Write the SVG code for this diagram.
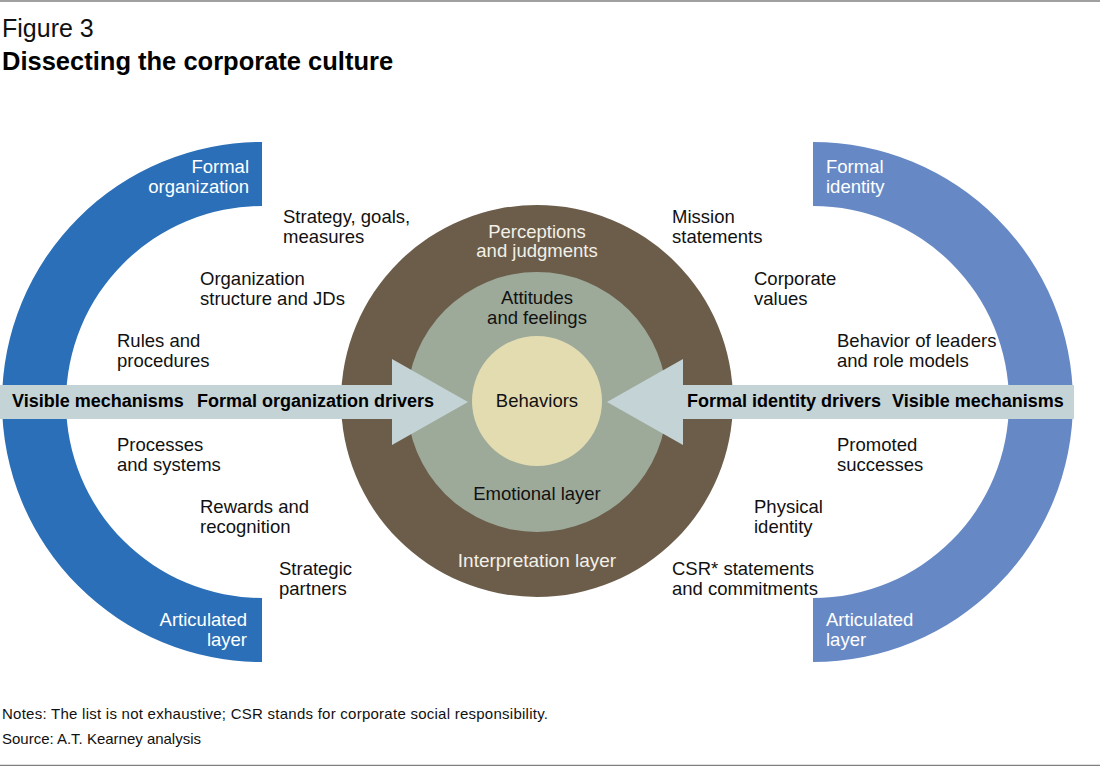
<svg xmlns="http://www.w3.org/2000/svg" width="1100" height="766" viewBox="0 0 1100 766">
<style>
text{font-family:"Liberation Sans",Arial,sans-serif;font-size:18.5px;fill:#111}
.w{fill:#ffffff}
.lw{fill:#f3f0e8}
.b{font-weight:bold;fill:#000;font-size:18px}
.c{text-anchor:middle}
.r{text-anchor:end}
.note{font-size:15px}
.rule{stroke:#808080;stroke-width:1.5}
.arrow{fill:#c4d3d6}
</style>
<rect width="1100" height="766" fill="#ffffff"/>
<line class="rule" x1="0" y1="1" x2="1100" y2="1"/>
<line class="rule" x1="0" y1="765.5" x2="1100" y2="765.5"/>
<g id="title">
<text x="2" y="37" style="font-size:25px">Figure 3</text>
<text x="2" y="70" class="b" style="font-size:25.5px">Dissecting the corporate culture</text>
</g>
<g id="left-arc">
<path d="M262,142 A260,260 0 0 0 262,662 L262,598 A196,196 0 0 1 262,206 Z" fill="#2a6fb7"/>
<text x="249" y="173" class="w r">Formal</text>
<text x="249" y="193" class="w r">organization</text>
<text x="247" y="626" class="w r">Articulated</text>
<text x="247" y="646" class="w r">layer</text>
</g>
<g id="right-arc">
<path d="M813,142 A260,260 0 0 1 813,662 L813,598 A196,196 0 0 0 813,206 Z" fill="#6689c5"/>
<text x="826" y="173" class="w">Formal</text>
<text x="826" y="193" class="w">identity</text>
<text x="826" y="626" class="w">Articulated</text>
<text x="826" y="646" class="w">layer</text>
</g>
<g id="interpretation-layer">
<circle cx="537" cy="401" r="196" fill="#6b5d4a"/>
<text x="537" y="238" class="lw c">Perceptions</text>
<text x="537" y="257" class="lw c">and judgments</text>
<text x="537" y="567" class="lw c" style="font-size:19px">Interpretation layer</text>
</g>
<g id="emotional-layer">
<circle cx="537" cy="402" r="130" fill="#9daa9a"/>
<text x="537" y="304" class="c">Attitudes</text>
<text x="537" y="324" class="c">and feelings</text>
<text x="537" y="500" class="c">Emotional layer</text>
</g>
<g id="behaviors">
<circle cx="537" cy="401" r="65" fill="#e3dcb1"/>
<text x="537" y="407" class="c">Behaviors</text>
</g>
<g id="connectors">
<polygon id="left-arrow" class="arrow" points="0,385 392,385 392,359 468,402 392,445 392,419 0,419"/>
<polygon id="right-arrow" class="arrow" points="1074,385 683,385 683,359 607,402 683,445 683,419 1074,419"/>
</g>
<g id="arrow-labels">
<text x="12" y="407" class="b">Visible mechanisms</text>
<text x="197" y="407" class="b">Formal organization drivers</text>
<text x="687" y="407" class="b">Formal identity drivers</text>
<text x="892" y="407" class="b">Visible mechanisms</text>
</g>
<g id="left-items">
<text x="283" y="223">Strategy, goals,</text>
<text x="283" y="243">measures</text>
<text x="200" y="285">Organization</text>
<text x="200" y="305">structure and JDs</text>
<text x="117" y="347">Rules and</text>
<text x="117" y="367">procedures</text>
<text x="117" y="451">Processes</text>
<text x="117" y="471">and systems</text>
<text x="200" y="513">Rewards and</text>
<text x="200" y="533">recognition</text>
<text x="279" y="575">Strategic</text>
<text x="279" y="595">partners</text>
</g>
<g id="right-items">
<text x="672" y="223">Mission</text>
<text x="672" y="243">statements</text>
<text x="754" y="285">Corporate</text>
<text x="754" y="305">values</text>
<text x="837" y="347">Behavior of leaders</text>
<text x="837" y="367">and role models</text>
<text x="837" y="451">Promoted</text>
<text x="837" y="471">successes</text>
<text x="754" y="513">Physical</text>
<text x="754" y="533">identity</text>
<text x="672" y="575">CSR* statements</text>
<text x="672" y="595">and commitments</text>
</g>
<g id="notes">
<text x="2" y="719" class="note" textLength="546">Notes: The list is not exhaustive; CSR stands for corporate social responsibility.</text>
<text x="2" y="744" class="note" textLength="199">Source: A.T. Kearney analysis</text>
</g>
</svg>
